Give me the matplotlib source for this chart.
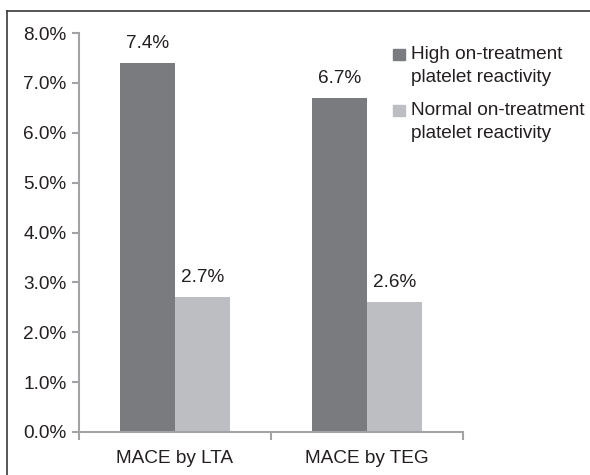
import matplotlib
matplotlib.use("Agg")
import matplotlib.pyplot as plt
from matplotlib.patches import Rectangle
from matplotlib.lines import Line2D

plt.rcParams['font.family'] = ['Liberation Sans', 'DejaVu Sans']

categories = ["MACE by LTA", "MACE by TEG"]
series_names = ["High on-treatment\nplatelet reactivity",
                "Normal on-treatment\nplatelet reactivity"]
high_values = [7.4, 6.7]
normal_values = [2.7, 2.6]
y_ticks = [0, 1, 2, 3, 4, 5, 6, 7, 8]
y_tick_labels = ["0.0%", "1.0%", "2.0%", "3.0%", "4.0%", "5.0%", "6.0%", "7.0%", "8.0%"]

dark = "#7a7b7f"
light = "#bdbec2"
text_col = "#231f20"
axis_col = "#a3a3a5"
fs = 13.7

W, H = 590, 475
fig = plt.figure(figsize=(W / 100, H / 100), dpi=100)
ax = fig.add_axes([79 / W, 1 - 432 / H, (463 - 79) / W, (432 - 33) / H])

width = 0.286
centers = [i + 0.5 for i in range(len(categories))]
b1 = ax.bar([c - width / 2 for c in centers], high_values, width, color=dark)
b2 = ax.bar([c + width / 2 for c in centers], normal_values, width, color=light)

for bars, vals in ((b1, high_values), (b2, normal_values)):
    for rect, v in zip(bars, vals):
        ax.annotate(f"{v:.1f}%", (rect.get_x() + rect.get_width() / 2, v),
                    xytext=(0, 11), textcoords="offset pixels",
                    ha="center", va="bottom", fontsize=fs, color=text_col)

ax.set_xlim(0, len(categories))
ax.set_ylim(0, 8)
ax.set_yticks(y_ticks)
ax.set_yticklabels(y_tick_labels)
ax.set_xticks(centers)
ax.set_xticklabels(categories)
ax.set_xticks([0, 1, 2], minor=True)

for s in ("top", "right"):
    ax.spines[s].set_visible(False)
for s in ("left", "bottom"):
    ax.spines[s].set_color(axis_col)
    ax.spines[s].set_linewidth(1.5)

ax.tick_params(axis="y", length=5, width=1.5, color=axis_col, pad=4,
               labelsize=fs, labelcolor=text_col)
ax.tick_params(axis="x", which="major", length=0, pad=13,
               labelsize=fs, labelcolor=text_col)
ax.tick_params(axis="x", which="minor", length=6, width=1.5, color=axis_col)

# legend drawn in figure pixels
for i, (name, col) in enumerate(zip(series_names, [dark, light])):
    top = 49 + i * 56
    fig.patches.append(Rectangle((393 / W, 1 - (top + 11) / H), 12 / W, 11 / H,
                                 transform=fig.transFigure, color=col))
    fig.text(411 / W, 1 - (top - 3) / H, name, ha="left", va="top",
             fontsize=fs, color=text_col, linespacing=1.5)

# partial frame around the panel
frame = "#3a3a3a"
fig.add_artist(Line2D([7 / W, 7 / W], [0, 1 - 11 / H], transform=fig.transFigure,
                      color=frame, linewidth=1.2))
fig.add_artist(Line2D([7 / W, 1], [1 - 11 / H, 1 - 11 / H], transform=fig.transFigure,
                      color=frame, linewidth=1.2))

fig.savefig("out.png", dpi=100)
